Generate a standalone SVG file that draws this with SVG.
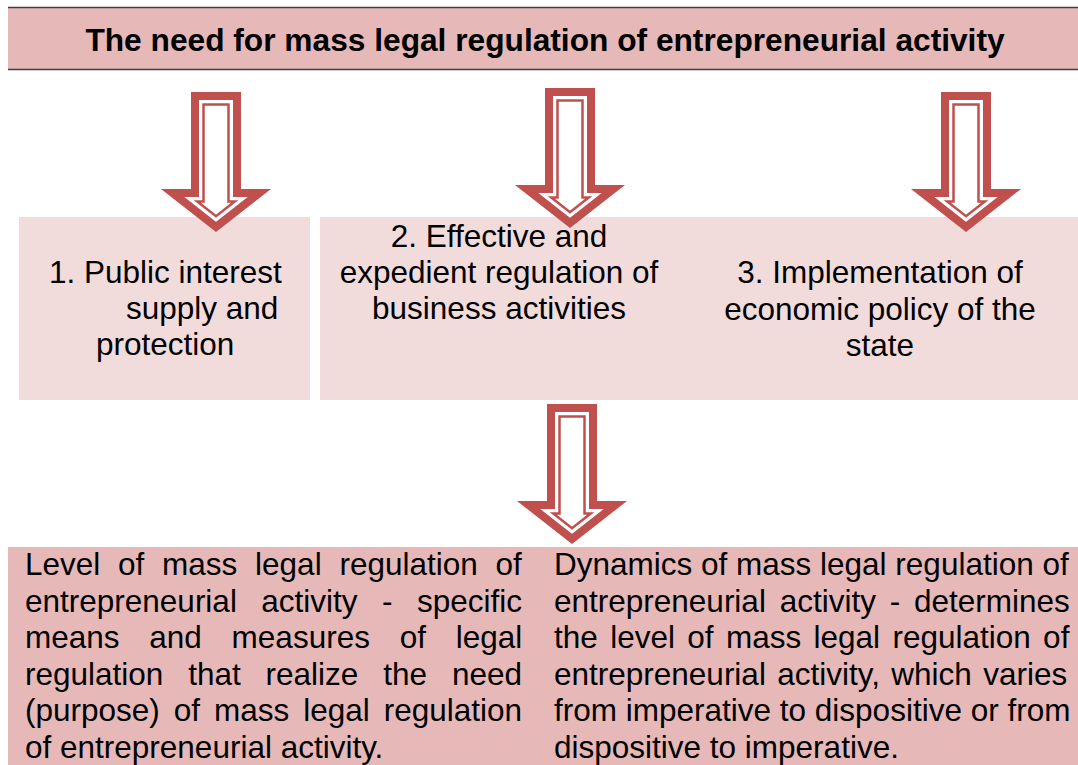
<svg xmlns="http://www.w3.org/2000/svg" width="1078" height="765" viewBox="0 0 1078 765">
<defs>
<style>
.t{font-family:"Liberation Sans",Arial,sans-serif;font-size:31.5px;fill:#000}
.title{font-family:"Liberation Sans",Arial,sans-serif;font-size:31.7px;font-weight:bold;fill:#000}
.lt{fill:#f2dcdb}
.dk{fill:#e6b9b8}
.ao{fill:#fff;stroke:#c0504d;stroke-width:8;stroke-linejoin:miter}
.ai{fill:none;stroke:#c0504d;stroke-width:2.5;stroke-linejoin:miter}
</style>
<g id="arrowShape">
<polygon class="ao" points="-21,4 21,4 21,101 43.39,101 0,134.92 -43.39,101 -21,101"/>
<polygon class="ai" points="-12.5,12.5 12.5,12.5 12.5,109.5 18.72,109.5 0,124.13 -18.72,109.5 -12.5,109.5"/>
</g>
</defs>
<rect width="1078" height="765" fill="#fff"/>
<g id="title">
<rect x="8" y="7" width="1072" height="63" class="dk"/>
<line x1="8" y1="7.5" x2="1078" y2="7.5" stroke="#3f3f3f" stroke-width="1.5"/>
<line x1="8" y1="69.5" x2="1078" y2="69.5" stroke="#3f3f3f" stroke-width="1.5"/>
<text class="title" x="545" y="51" text-anchor="middle">The need for mass legal regulation of entrepreneurial activity</text>
</g>
<g id="node1">
<rect x="19" y="217" width="291" height="183" class="lt"/>
<text class="t" x="49" y="283">1. Public interest</text>
<text class="t" x="126" y="319">supply and</text>
<text class="t" x="96" y="355">protection</text>
</g>
<g id="node2">
<rect x="320" y="217" width="357" height="183" class="lt"/>
<text class="t" x="499" y="247" text-anchor="middle">2. Effective and</text>
<text class="t" x="499" y="283" text-anchor="middle">expedient regulation of</text>
<text class="t" x="499" y="319" text-anchor="middle">business activities</text>
</g>
<g id="node3">
<rect x="677" y="217" width="401" height="183" class="lt"/>
<text class="t" x="880" y="283" text-anchor="middle">3. Implementation of</text>
<text class="t" x="880" y="320" text-anchor="middle">economic policy of the</text>
<text class="t" x="880" y="356" text-anchor="middle">state</text>
</g>
<g id="node4">
<rect x="8" y="547" width="532" height="218" class="dk"/>
<text class="t" x="25" y="575" style="word-spacing:9px">Level of mass legal regulation of</text>
<text class="t" x="25" y="611.6" style="word-spacing:15.7px">entrepreneurial activity - specific</text>
<text class="t" x="25" y="648.2" style="word-spacing:21px">means and measures of legal</text>
<text class="t" x="25" y="684.8" style="word-spacing:16.1px">regulation that realize the need</text>
<text class="t" x="25" y="721.4" style="word-spacing:5.2px">(purpose) of mass legal regulation</text>
<text class="t" x="25" y="758">of entrepreneurial activity.</text>
</g>
<g id="node5">
<rect x="540" y="547" width="538" height="218" class="dk"/>
<text class="t" x="554" y="575">Dynamics of mass legal regulation of</text>
<text class="t" x="554" y="611.6" style="word-spacing:5px">entrepreneurial activity - determines</text>
<text class="t" x="554" y="648.2" style="word-spacing:3.6px">the level of mass legal regulation of</text>
<text class="t" x="554" y="684.8" style="word-spacing:2.6px">entrepreneurial activity, which varies</text>
<text class="t" x="554" y="721.4">from imperative to dispositive or from</text>
<text class="t" x="554" y="758">dispositive to imperative.</text>
</g>
<g id="connectors">
<use href="#arrowShape" transform="translate(216,92)"/>
<use href="#arrowShape" transform="translate(570,88)"/>
<use href="#arrowShape" transform="translate(966,92)"/>
<use href="#arrowShape" transform="translate(572,404)"/>
</g>
</svg>
